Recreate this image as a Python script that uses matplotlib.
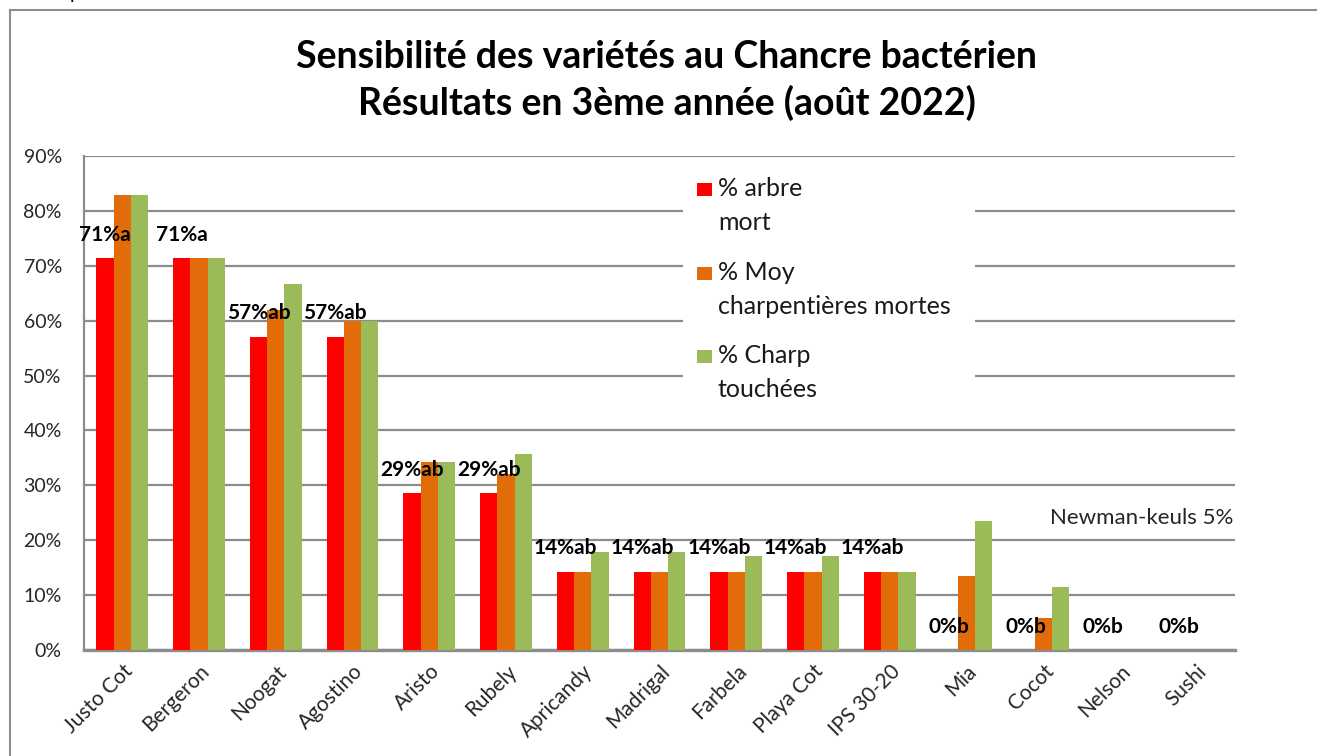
import numpy as np
import matplotlib
matplotlib.use("Agg")
import matplotlib.pyplot as plt
from matplotlib.patches import Rectangle
from matplotlib.lines import Line2D
import matplotlib.transforms as mtransforms

plt.rcParams["font.family"] = ["Lato", "DejaVu Sans"]

# ------------------------------------------------------------
# données
# ------------------------------------------------------------
varietes = ["Justo Cot", "Bergeron", "Noogat", "Agostino", "Aristo", "Rubely",
            "Apricandy", "Madrigal", "Farbela", "Playa Cot", "IPS 30-20",
            "Mia", "Cocot", "Nelson", "Sushi"]

arbre_mort = [71.4, 71.4, 57.1, 57.1, 28.6, 28.6, 14.3, 14.3, 14.3, 14.3, 14.3,
              0, 0, 0, 0]
charp_mortes = [82.9, 71.4, 61.9, 60.0, 34.3, 32.1, 14.3, 14.3, 14.3, 14.3, 14.3,
                13.5, 5.8, 0, 0]
charp_touchees = [82.9, 71.4, 66.7, 60.0, 34.3, 35.7, 17.9, 17.9, 17.1, 17.1, 14.3,
                  23.5, 11.5, 0, 0]

etiquettes = ["71%a", "71%a", "57%ab", "57%ab", "29%ab", "29%ab", "14%ab", "14%ab",
              "14%ab", "14%ab", "14%ab", "0%b", "0%b", "0%b", "0%b"]

series = ["% arbre\nmort", "% Moy\ncharpentières mortes", "% Charp\ntouchées"]
couleurs = ["#FF0000", "#E36C0A", "#9BBB59"]

# ------------------------------------------------------------
# figure
# ------------------------------------------------------------
W, H = 1317, 756
fig = plt.figure(figsize=(W / 100, H / 100), dpi=100)
ax = fig.add_axes([84 / W, 1 - 650 / H, 1151 / W, 494 / H])

x = np.arange(len(varietes))
bw = 0.225
valeurs = [arbre_mort, charp_mortes, charp_touchees]
for k, (vals, c) in enumerate(zip(valeurs, couleurs)):
    ax.bar(x + (k - 1) * bw, vals, width=bw, color=c, zorder=3)

# étiquettes au-dessus de la barre rouge
for i, lab in enumerate(etiquettes):
    ax.annotate(lab, (x[i] - bw, arbre_mort[i]), xytext=(0, 12.5),
                textcoords="offset points", ha="center", va="baseline",
                fontsize=15, fontweight="bold", color="black", zorder=6)

ax.set_xlim(-0.5, len(varietes) - 0.5)
ax.set_ylim(0, 90)
ax.set_yticks(np.arange(0, 91, 10))
ax.set_yticklabels([f"{v}%" for v in range(0, 91, 10)])
ax.yaxis.grid(True, color="#8C8C8C", linewidth=1.6, zorder=0)
ax.set_axisbelow(True)

for s in ["top", "right"]:
    ax.spines[s].set_visible(False)
ax.spines["left"].set_color("#8C8C8C")
ax.spines["left"].set_linewidth(1.6)
ax.spines["bottom"].set_color("#8C8C8C")
ax.spines["bottom"].set_linewidth(2.4)

ax.tick_params(axis="y", length=0, pad=16, labelsize=14, labelcolor="#262626")
ax.tick_params(axis="x", length=0, pad=8, labelsize=15, labelcolor="#262626")
ax.set_xticks(x)
ax.set_xticklabels(varietes)
for t in ax.get_xticklabels():
    t.set_rotation(45)
    t.set_ha("right")
    t.set_va("top")
    t.set_rotation_mode("anchor")

# légende (fond blanc qui coupe le quadrillage)
to_ax = lambda px, py: ((px - 84) / 1151, (650 - py) / 494)
x0, y0 = to_ax(683, 408)
x1, y1 = to_ax(975, 165)
ax.add_patch(Rectangle((x0, y0), x1 - x0, y1 - y0, transform=ax.transAxes,
                       facecolor="white", edgecolor="none", zorder=4))
bases_y = [196, 280, 363]
for lab, c, py in zip(series, couleurs, bases_y):
    hx, hy = to_ax(697, py)
    ax.add_patch(Rectangle((hx, hy), 15 / 1151, 13 / 494, transform=ax.transAxes,
                           facecolor=c, edgecolor="none", zorder=5))
    # va="baseline" se cale sur la dernière ligne
    tx, ty = to_ax(718, py + 34)
    ax.text(tx, ty, lab, transform=ax.transAxes, fontsize=18, va="baseline",
            ha="left", color="#1a1a1a", linespacing=1.6, zorder=5)

nx, ny = to_ax(1233, 518)
ax.text(nx, ny, "Newman-keuls 5%", transform=ax.transAxes, fontsize=16,
        ha="right", va="center", color="#262626", zorder=5)

# titre
fig.text(667 / W, 1 - 57 / H, "Sensibilité des variétés au Chancre bactérien",
         ha="center", va="center", fontsize=27, fontweight="bold")
fig.text(667 / W, 1 - 103 / H, "Résultats en 3ème année (août 2022)",
         ha="center", va="center", fontsize=27, fontweight="bold")

# cadre extérieur
fig.add_artist(Line2D([10 / W, 10 / W], [0, 1 - 10 / H], transform=fig.transFigure,
                      color="#8C8C8C", linewidth=1.5))
fig.add_artist(Line2D([10 / W, 1], [1 - 10 / H, 1 - 10 / H], transform=fig.transFigure,
                      color="#8C8C8C", linewidth=1.5))
fig.text(70 / W, 1 + 1 / H, "p", fontsize=14, va="baseline", ha="left")

fig.savefig("out.png", dpi=100, facecolor="white")
